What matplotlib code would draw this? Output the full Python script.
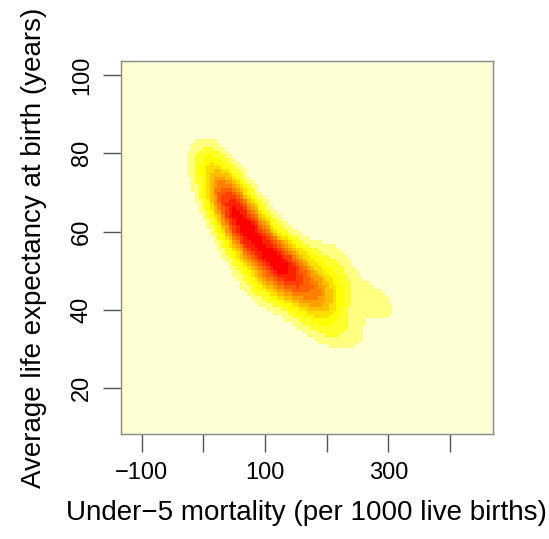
import numpy as np
import matplotlib
matplotlib.use("Agg")
import matplotlib.pyplot as plt
from matplotlib.colors import ListedColormap, BoundaryNorm

# Country observations: under-5 mortality (per 1000 live births)
mortality = [2, 3, 6, 8, 11, 17,
             21, 22, 26, 28, 30, 32, 33, 35, 36, 38, 39, 34,
             41, 42, 44, 46, 48, 50, 52, 53, 55, 56, 58, 59, 57, 47, 43,
             61, 62, 64, 66, 68, 70, 71, 73, 75, 77, 78, 79, 72, 63, 67,
             81, 82, 84, 86, 88, 90, 91, 93, 95, 96, 98, 99, 85,
             101, 103, 105, 107, 109, 110, 112, 114, 116, 118, 104, 115,
             121, 123, 125, 128, 130, 132, 134, 136, 138, 139,
             122, 127, 135, 142, 148, 155, 162, 170, 178, 186, 195, 205,
             141, 144, 147, 150, 153, 156, 159,
             162, 165, 168, 172, 176, 179,
             182, 186, 189, 193, 196, 199,
             201, 204, 207, 210, 214, 218,
             225, 232, 238, 245, 252,
             270, 288, 305]
# ... and average life expectancy at birth (years)
life_exp = [81, 79, 78, 77, 76, 75,
            73, 71, 72, 70, 71, 69, 72, 68, 70, 67, 69, 74,
            66, 68, 65, 67, 64, 66, 63, 67, 62, 65, 60, 64, 55, 70, 61,
            63, 61, 65, 60, 62, 58, 63, 60, 61, 57, 59, 62, 50, 66, 56,
            60, 57, 59, 55, 61, 58, 54, 57, 59, 52, 56, 48, 47,
            55, 57, 53, 55, 51, 56, 52, 54, 50, 53, 46, 45,
            53, 49, 55, 47, 52, 45, 54, 48, 51, 43,
            54, 52, 50, 51, 49, 48, 47, 46, 45, 44, 43, 42,
            50, 53, 45, 48, 42, 51, 44,
            47, 55, 41, 49, 38, 45,
            43, 52, 39, 47, 35, 44,
            41, 49, 37, 55, 43, 34,
            51, 47, 35, 32, 43,
            44, 41, 39]

xlim = (-134, 469)
ylim = (8.3, 103.6)
xticks = [-100, 0, 100, 200, 300, 400]
xticklabels = ["\u2212100", "", "100", "", "300", ""]
yticks = [20, 40, 60, 80, 100]

# reversed R heat.colors(12)
heat12 = ["#FF0000", "#FF2000", "#FF4000", "#FF6000", "#FF8000", "#FF9F00",
          "#FFBF00", "#FFDF00", "#FFFF00", "#FFFF2A", "#FFFF80", "#FFFFD5"]
cols = heat12[::-1]

mx = np.asarray(mortality, float)
ly = np.asarray(life_exp, float)
n = 100
xe = np.linspace(xlim[0], xlim[1], n + 1)
ye = np.linspace(ylim[0], ylim[1], n + 1)
xc = 0.5 * (xe[:-1] + xe[1:])
yc = 0.5 * (ye[:-1] + ye[1:])
sx, sy = 22.0, 3.8
GX, GY = np.meshgrid(xc, yc)
Z = np.zeros_like(GX)
for a, b in zip(mx, ly):
    Z += np.exp(-0.5 * (((GX - a) / sx) ** 2 + ((GY - b) / sy) ** 2))
Z /= (len(mx) * 2 * np.pi * sx * sy)

levels = np.linspace(Z.min(), Z.max(), len(cols) + 1)
cmap = ListedColormap(cols)
norm = BoundaryNorm(levels, cmap.N)

plt.rcParams['font.family'] = ['Liberation Sans', 'DejaVu Sans']
W, H = 549, 539
fig = plt.figure(figsize=(W / 100, H / 100), dpi=100)
ax = fig.add_axes([120.7 / W, 1 - 434 / H, (492.7 - 120.7) / W, (434 - 61) / H])
ax.pcolormesh(xe, ye, Z, cmap=cmap, norm=norm, shading='flat', rasterized=True)
ax.set_xlim(*xlim)
ax.set_ylim(*ylim)
ax.set_xticks(xticks)
ax.set_xticklabels(xticklabels)
ax.set_yticks(yticks)
ax.set_yticklabels([str(v) for v in yticks], rotation=90, va='center')
ax.tick_params(axis='both', direction='out', length=13, width=1, color='#555555',
               labelsize=17, pad=7)
for s in ax.spines.values():
    s.set_color('#888888')
    s.set_linewidth(1)
fig.text(306.7 / W, 1 - 520 / H, "Under\u22125 mortality (per 1000 live births)",
         fontsize=20, ha='center', va='baseline')
fig.text(34 / W, 1 - 248 / H, "Average life expectancy at birth (years)",
         fontsize=20, ha='center', va='center', rotation=90)
fig.savefig("out.png", dpi=100)
